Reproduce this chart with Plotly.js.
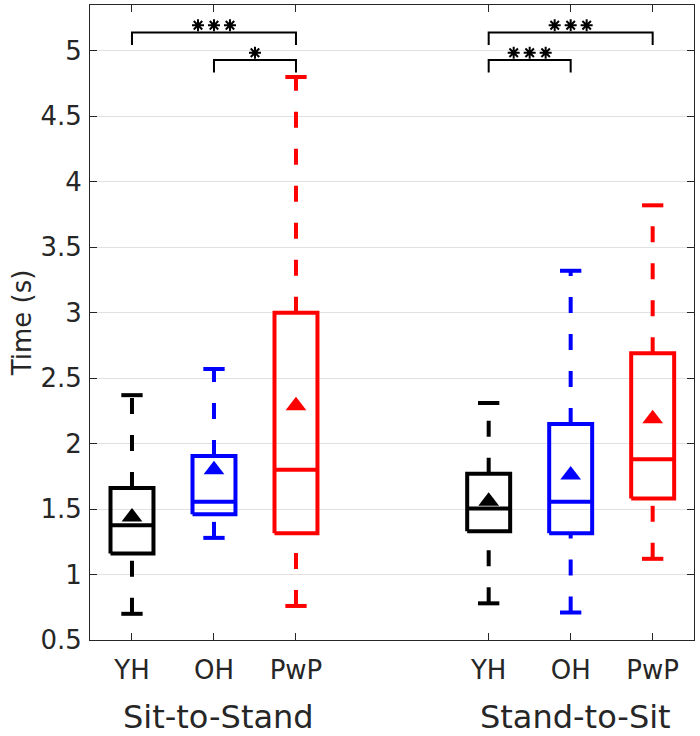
<!DOCTYPE html>
<html>
<head>
<meta charset="utf-8">
<script src="https://cdn.plot.ly/plotly-3.0.1.min.js"></script>
<style>html,body{margin:0;padding:0;background:#fff}</style>
</head>
<body>
<div id="chart" style="width:700px;height:736px"></div>
<script>
// ---- data ----
const groupNames = ['Sit-to-Stand', 'Stand-to-Sit'];
const categories = ['YH', 'OH', 'PwP', 'YH', 'OH', 'PwP'];
const positions = [1, 2, 3, 5.35, 6.35, 7.35];
const boxColors = ['#000000', '#0000ff', '#ff0000', '#000000', '#0000ff', '#ff0000'];
const whiskerLow = [0.70, 1.28, 0.76, 0.78, 0.71, 1.12];
const q1 = [1.16, 1.46, 1.315, 1.33, 1.315, 1.58];
const medians = [1.376, 1.555, 1.80, 1.505, 1.555, 1.88];
const q3 = [1.66, 1.905, 3.00, 1.77, 2.15, 2.69];
const whiskerHigh = [2.37, 2.57, 4.80, 2.31, 3.32, 3.82];
const means = [1.44, 1.80, 2.29, 1.56, 1.76, 2.19];
// significance brackets (indices into positions)
const bracketFrom = [0, 1, 3, 3];
const bracketTo = [2, 2, 5, 4];
const bracketLevel = [5.14, 4.93, 5.14, 4.93];
const bracketStars = ['***', '*', '***', '***'];
const yTicks = [0.5, 1, 1.5, 2, 2.5, 3, 3.5, 4, 4.5, 5];

// ---- styles ----
const boxHalf = 0.262, capHalf = 0.13, lw = 4;
const legDrop = 0.095, starRise = 0.055, starGap = 0.195;
const traces = [];
for (let i = 0; i < positions.length; i++) {
  const p = positions[i], c = boxColors[i];
  // whiskers (dashed), drawn from lower to upper value
  traces.push({type:'scatter', mode:'lines', x:[p, p], y:[whiskerLow[i], q1[i]],
    line:{color:c, width:lw, dash:'16px,21px'}, hoverinfo:'skip', showlegend:false});
  traces.push({type:'scatter', mode:'lines', x:[p, p], y:[q3[i], whiskerHigh[i]],
    line:{color:c, width:lw, dash:'16px,21px'}, hoverinfo:'skip', showlegend:false});
  // caps
  traces.push({type:'scatter', mode:'lines', x:[p-capHalf, p+capHalf, null, p-capHalf, p+capHalf],
    y:[whiskerLow[i], whiskerLow[i], null, whiskerHigh[i], whiskerHigh[i]],
    line:{color:c, width:lw}, hoverinfo:'skip', showlegend:false});
  // box
  traces.push({type:'scatter', mode:'lines',
    x:[p-boxHalf, p+boxHalf, p+boxHalf, p-boxHalf, p-boxHalf],
    y:[q1[i], q1[i], q3[i], q3[i], q1[i]],
    line:{color:c, width:lw}, hoverinfo:'skip', showlegend:false});
  // median
  traces.push({type:'scatter', mode:'lines', x:[p-boxHalf, p+boxHalf], y:[medians[i], medians[i]],
    line:{color:c, width:lw}, hoverinfo:'skip', showlegend:false});
  // mean
  traces.push({type:'scatter', mode:'markers', x:[p], y:[means[i]],
    marker:{symbol:'triangle-up', size:18, color:c, line:{width:0}}, showlegend:false});
}
// brackets
for (let b = 0; b < bracketFrom.length; b++) {
  const xa = positions[bracketFrom[b]], xb = positions[bracketTo[b]], lv = bracketLevel[b];
  traces.push({type:'scatter', mode:'lines', x:[xa, xa, xb, xb], y:[lv-legDrop, lv, lv, lv-legDrop],
    line:{color:'#000000', width:2}, hoverinfo:'skip', showlegend:false});
  const n = bracketStars[b].length, mid = (xa + xb) / 2;
  const sx = [], sy = [];
  for (let k = 0; k < n; k++) { sx.push(mid + (k - (n-1)/2) * starGap); sy.push(lv + starRise); }
  traces.push({type:'scatter', mode:'markers', x:sx, y:sy,
    marker:{symbol:'asterisk-open', size:10, color:'#000000', line:{color:'#000000', width:2}},
    hoverinfo:'skip', showlegend:false});
}

const axisColor = '#262626';
const font = 'DejaVu Sans, sans-serif';
const layout = {
  width:700, height:736,
  margin:{l:90, r:6, t:5, b:96},
  paper_bgcolor:'#ffffff', plot_bgcolor:'#ffffff',
  font:{family:font, color:axisColor},
  showlegend:false,
  xaxis:{range:[0.488, 7.854], tickmode:'array', tickvals:positions, ticktext:categories,
    ticks:'inside', ticklen:7, tickcolor:axisColor, tickwidth:1,
    showline:true, linecolor:axisColor, linewidth:1, mirror:'ticks',
    showgrid:false, zeroline:false, fixedrange:true,
    tickfont:{size:26, color:axisColor, family:font}, ticklabelstandoff:7},
  yaxis:{range:[0.5, 5.35], tickmode:'array', tickvals:yTicks, ticktext:yTicks.map(String),
    ticks:'inside', ticklen:7, tickcolor:axisColor, tickwidth:1,
    showline:true, linecolor:axisColor, linewidth:1, mirror:'ticks',
    showgrid:true, gridcolor:'#e1e1e1', gridwidth:1, zeroline:false, fixedrange:true,
    tickfont:{size:26, color:axisColor, family:font}, ticklabelstandoff:2,
    title:{text:'Time (s)', font:{size:26, color:axisColor, family:font}, standoff:1}},
  annotations: groupNames.map((g, gi) => ({
    text:g, xref:'x', yref:'paper',
    x:(positions[gi*3] + positions[gi*3+2]) / 2, y:0, yshift:-77, xshift:5,
    xanchor:'center', yanchor:'middle', showarrow:false,
    font:{size:32, color:axisColor, family:font}
  }))
};
Plotly.newPlot('chart', traces, layout, {staticPlot:true, displayModeBar:false});
</script>
</body>
</html>
